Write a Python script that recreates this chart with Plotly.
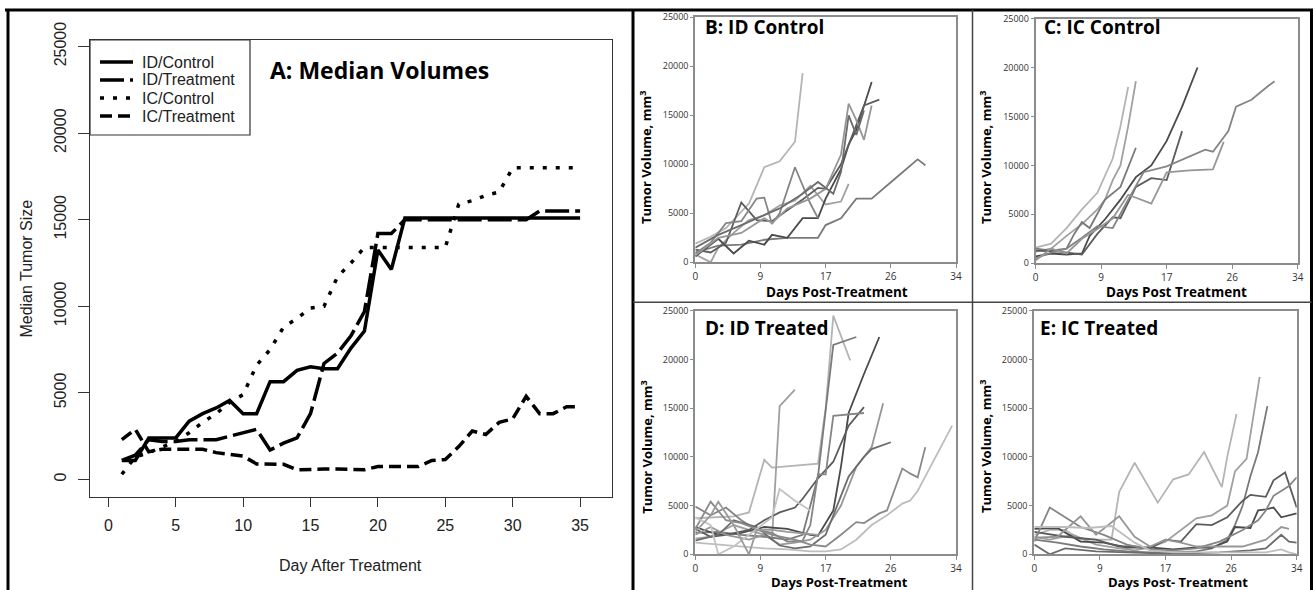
import plotly.graph_objects as go

W, H = 1315, 590

# ---------------- Panel A data (medians) ----------------
days_A = list(range(1, 36))
id_control = [1100, 1100, 2400, 2400, 2400, 3370, 3800, 4130, 4560, 3800, 3800, 5650, 5650, 6300, 6510,
              6400, 6400, 7590, 8570, 13250, 12130, 15100, 15100, 15100, 15100, 15100, 15100, 15100, 15100,
              15100, 15100, 15100, 15100, 15100, 15100]
id_treatment = [1100, 1400, 2300, 2200, 2200, 2300, 2300, 2300, 2500, 2700, 2900, 1700, 2100, 2400, 3800,
                6700, 7300, 8300, 9700, 14200, 14200, 15000, 15000, 15000, 15000, 15000, 15000, 15000, 15000,
                15000, 15000, 15500, 15500, 15500, 15500]
ic_control = [300, 1300, 1550, 1850, 2200, 2700, 3300, 3800, 4450, 4900, 6600, 7500, 8800, 9300, 9900,
              10000, 11700, 12500, 13400, 13400, 13400, 13400, 13400, 13400, 13400, 15900, 16100, 16400, 16600,
              18000, 18000, 18000, 18000, 18000, 18000]
ic_treatment = [2300, 2900, 1600, 1750, 1750, 1750, 1750, 1550, 1450, 1350, 900, 880, 880, 560, 600,
                600, 600, 560, 560, 750, 750, 750, 750, 1100, 1150, 1900, 2800, 2600, 3300, 3500,
                4800, 3800, 3800, 4200, 4200]
series_names_A = ["ID/Control", "ID/Treatment", "IC/Control", "IC/Treatment"]
ticks_A_x = [0, 5, 10, 15, 20, 25, 30, 35]
ticks_A_y = [0, 5000, 10000, 15000, 20000, 25000]
ticktext_A_y = ["0", "5000", "10000", "15000", "20000", "25000"]

# ---------------- Panels B-E data (individual animals) ----------------
B_days = [
    [0, 2, 4, 7, 9, 11, 13, 14],
    [0, 2, 3, 5, 7, 9, 11, 13, 15, 17, 19, 20],
    [0, 3, 6, 9, 12, 16, 17, 19, 21, 23, 26, 29, 30],
    [0, 3, 5, 7, 9, 10, 12, 14, 16, 17, 19, 20, 21, 23],
    [0, 2, 4, 6, 8, 10, 12, 14, 16, 17, 19, 21, 22, 24],
    [0, 2, 4, 6, 8, 9, 10, 11, 13, 15, 16],
    [0, 3, 6, 9, 10, 12, 15, 17, 19, 20, 21, 22, 23],
    [0, 3, 6, 8, 11, 14, 16, 18, 19, 20, 21, 22],
]
B_vals = [
    [1900, 2600, 3500, 6000, 9700, 10300, 12300, 19300],
    [800, 0, 1500, 3000, 4300, 4800, 5800, 6300, 7800, 5900, 6200, 8000],
    [1000, 1700, 1800, 2300, 2500, 2500, 3800, 4500, 6500, 6500, 8500, 10500, 9900],
    [600, 2400, 900, 2200, 1800, 2800, 2500, 4500, 4500, 6500, 9500, 12000, 13500, 18400],
    [1300, 1000, 2000, 6100, 4300, 4200, 5300, 6400, 7600, 7500, 10000, 14000, 16000, 16600],
    [900, 2000, 4000, 4200, 6500, 6600, 3900, 5000, 9700, 6000, 4500],
    [700, 2500, 3000, 4500, 4000, 5500, 6500, 7500, 11000, 16200, 14500, 12500, 16000],
    [1500, 2800, 3800, 4500, 5500, 7000, 8200, 7000, 9200, 15000, 13000, 15500],
]
C_days = [
    [0, 2, 4, 6, 8, 10, 11, 12],
    [0, 2, 4, 6, 8, 9, 10, 11, 12, 13],
    [0, 2, 4, 5, 6, 7, 9, 11, 13],
    [0, 2, 4, 6, 7, 9, 11, 13, 15, 17, 19, 21],
    [0, 3, 6, 8, 10, 11, 13, 15, 17, 18, 19],
    [0, 2, 4, 6, 8, 10, 12, 14, 17, 20, 22, 23, 25, 26, 28, 30, 31],
    [0, 2, 4, 6, 8, 10, 12, 15, 17, 20, 23, 24, 24.4],
]
C_vals = [
    [1600, 2000, 3600, 5500, 7200, 10700, 14000, 18000],
    [1200, 1500, 2800, 4000, 5500, 6500, 8500, 10000, 14000, 18600],
    [1500, 1300, 1500, 3000, 4200, 3600, 6500, 7800, 11800],
    [700, 1000, 900, 1000, 2800, 4500, 6500, 8800, 10000, 12500, 16000, 20000],
    [1300, 1200, 900, 3000, 4700, 4600, 7800, 8700, 8500, 11000, 13500],
    [500, 1100, 1500, 2600, 3800, 3600, 6500, 9300, 9900, 10900, 11600, 11400, 13500, 16000, 16700, 18000, 18600],
    [300, 1500, 1000, 2500, 3500, 4600, 7000, 6100, 9300, 9500, 9600, 11500, 12400],
]
D_days = [
    [0, 3, 5, 7, 9, 10, 13, 16, 17, 18, 20.2],
    [0, 2, 5, 7, 9, 10, 11, 13],
    [0, 3, 6, 9, 12, 14, 16, 17, 18, 21],
    [0, 3, 6, 9, 12, 15, 16, 18, 19, 20, 22, 24],
    [0, 2, 4, 7, 9, 11, 13, 14, 16, 18, 20, 22],
    [0, 2, 4, 6, 8, 10, 12, 14, 15, 16, 17, 18, 22],
    [0, 2, 4, 7, 9, 11, 13, 15, 17, 19, 21, 22, 23, 24.5],
    [0, 3, 5, 8, 11, 13, 15, 17, 19, 20, 22, 23, 25.5],
    [0, 3, 6, 9, 12, 15, 17, 19, 21, 23, 25, 27, 28, 29, 30, 31, 33.5],
    [0, 2, 4, 6, 8, 10, 13, 15, 17, 19, 21, 22, 24, 25, 27, 28, 29, 30],
    [0, 2, 3, 5, 7, 10, 11, 13, 15],
    [0, 2, 3, 5, 7, 8, 10, 12, 16],
]
D_vals = [
    [3700, 3800, 3900, 4300, 9700, 8900, 9100, 9300, 15000, 24500, 19900],
    [1600, 1800, 3000, 2500, 2000, 1500, 15200, 16900],
    [2200, 2300, 2000, 1800, 1500, 2000, 8000, 14500, 21500, 22300],
    [2800, 2000, 2200, 2800, 2600, 2000, 1900, 4500, 9000, 14500, 18500, 22300],
    [2600, 1800, 2000, 2500, 3500, 4300, 4800, 5700, 7800, 9500, 13200, 15100],
    [4900, 4000, 4800, 3500, 2500, 2200, 1300, 1400, 3000, 8200, 8200, 14200, 14500],
    [2000, 2800, 2000, 1500, 2000, 1000, 1200, 1500, 2500, 5000, 9000, 10000, 11000, 15500],
    [1400, 2000, 3500, 2800, 900, 600, 800, 2000, 6000, 8000, 10000, 10800, 11500],
    [1200, 1000, 800, 600, 500, 300, 300, 500, 1500, 3000, 4000, 5200, 5500, 6500, 8000, 9500, 13200],
    [2600, 5400, 3500, 3200, 2600, 2000, 1500, 1000, 800, 2000, 3300, 3200, 4200, 4500, 8800, 8300, 7900, 11000],
    [3800, 3000, 0, 800, 2000, 3800, 6700, 5500, 4500],
    [2300, 4000, 5400, 3000, 0, 2500, 2500, 2300, 2000],
]
E_days = [
    [0, 2, 4, 6, 8, 10, 11, 13, 16, 18, 20, 22, 24.3, 25, 26.2],
    [0, 2, 5, 8, 11, 13, 15, 17, 19, 21, 23, 25, 26, 27.5, 29.2],
    [0, 3, 6, 9, 12, 15, 18, 21, 23, 25, 26, 27, 28, 29, 30.2],
    [0, 3, 6, 9, 12, 15, 18, 21, 23, 25, 26, 28, 29, 30, 31, 32, 34],
    [0, 4, 8, 11, 13, 15, 17, 19, 21, 23, 25, 27, 28, 30, 31, 32.5, 34],
    [0, 2, 4, 6, 9, 12, 15, 18, 21, 24, 27, 29, 30, 31, 33, 34],
    [0, 3, 6, 8, 11, 13, 15, 17, 19, 21, 24, 27, 30, 32, 33],
    [0, 2, 4, 8, 12, 16, 20, 24, 28, 30, 32, 33, 34],
    [0, 4, 7, 10, 13, 15, 18, 22, 26, 30, 32, 33, 34],
]
E_vals = [
    [2000, 2500, 2500, 1500, 1500, 1500, 6400, 9400, 5300, 7700, 8200, 10500, 6900, 10000, 14400],
    [1800, 1500, 2000, 1000, 600, 400, 700, 1300, 2500, 3700, 4000, 5000, 8500, 9800, 18200],
    [1500, 1200, 800, 500, 300, 200, 200, 300, 600, 1500, 3000, 5000, 8000, 10500, 15200],
    [2600, 2700, 1300, 1200, 700, 700, 500, 700, 700, 1300, 2800, 2700, 4500, 4600, 4800, 3800, 4200],
    [2300, 1800, 1500, 800, 800, 600, 1500, 1300, 3100, 3000, 3800, 5500, 6100, 5900, 7600, 8400, 4800],
    [1300, 4800, 3800, 2800, 2000, 1000, 500, 400, 600, 1300, 2500, 3500, 4500, 6000, 7000, 7900],
    [1700, 1800, 3900, 2000, 3900, 1800, 800, 1500, 1200, 800, 800, 800, 1500, 2800, 2600],
    [1000, 0, 600, 300, 200, 100, 100, 200, 400, 600, 2000, 1300, 1200],
    [2800, 2800, 2700, 2900, 1200, 400, 200, 200, 200, 200, 500, 200, 0],
]
tickvals_R = [0, 8.5, 17, 25.5, 34]
ticktext_R = ["0", "9", "17", "26", "34"]
ticks_R_y = [0, 5000, 10000, 15000, 20000, 25000]
ticktext_R_y = ["0", "5000", "10000", "15000", "20000", "25000"]

# ---------------- styles ----------------
grays = ["#b4b4b4", "#a0a0a0", "#7a7a7a", "#4a4a4a", "#5c5c5c", "#858585", "#969696", "#6c6c6c",
         "#bdbdbd", "#8a8a8a", "#c2c2c2", "#9a9a9a"]
dashes_A = ["solid", "24px,6px", "4px,9px", "12px,6px"]

def px(x):
    return x / W

def py(y):
    return 1 - y / H

fig = go.Figure()

# Panel A traces
for name, vals, dsh in zip(series_names_A, [id_control, id_treatment, ic_control, ic_treatment], dashes_A):
    fig.add_trace(go.Scatter(x=days_A, y=vals, mode="lines", name=name,
                             line=dict(color="black", width=3.5, dash=dsh),
                             xaxis="x", yaxis="y", showlegend=False))

# Panels B-E
panels = [("x2", "y2", B_days, B_vals), ("x3", "y3", C_days, C_vals),
          ("x4", "y4", D_days, D_vals), ("x5", "y5", E_days, E_vals)]
for xa, ya, dl, vl in panels:
    for i, (d, v) in enumerate(zip(dl, vl)):
        fig.add_trace(go.Scatter(x=d, y=v, mode="lines", line=dict(color=grays[i % len(grays)], width=1.8),
                                 xaxis=xa, yaxis=ya, showlegend=False, hoverinfo="skip"))

fontA = "Liberation Sans, Arial, sans-serif"
fontR = "Open Sans, sans-serif"

layout = dict(
    width=W, height=H, margin=dict(l=0, r=0, t=0, b=0, pad=0, autoexpand=False),
    paper_bgcolor="white", plot_bgcolor="white",
    showlegend=False,
)

# Panel A axes
layout["xaxis"] = dict(domain=[px(90), px(612.3)], range=[-1.36, 37.39], anchor="y",
                       tickvals=ticks_A_x, ticks="outside", ticklen=9, tickcolor="#333",
                       showline=True, linecolor="#333", linewidth=1.2, mirror=True, showgrid=False,
                       zeroline=False, tickfont=dict(family=fontA, size=16, color="#222"),
                       ticklabelstandoff=5, automargin=False)
layout["yaxis"] = dict(domain=[py(496.7), py(40)], range=[-993, 25375], anchor="x",
                       tickvals=ticks_A_y, ticktext=ticktext_A_y, ticks="outside", ticklen=11, tickcolor="#333",
                       showline=True, linecolor="#333", linewidth=1.2, mirror=True, showgrid=False,
                       zeroline=False, tickangle=-90, tickfont=dict(family=fontA, size=16, color="#222"),
                       ticklabelstandoff=6, automargin=False)

rpanels = {
    2: ([695.3, 956.0], [17.3, 262.3]),
    3: ([1035.7, 1297.7], [18.5, 263.3]),
    4: ([695.3, 956.0], [310.7, 554.3]),
    5: ([1034.3, 1296.7], [310.7, 554.3]),
}
for k, (xd, yd) in rpanels.items():
    layout[f"xaxis{k}"] = dict(domain=[px(xd[0]), px(xd[1])], range=[0, 34], anchor=f"y{k}",
                               tickvals=tickvals_R, ticktext=ticktext_R, ticks="outside", ticklen=4,
                               tickcolor="#8c8c8c", showline=True, linecolor="#8c8c8c", linewidth=2,
                               mirror=True, showgrid=False, zeroline=False,
                               tickfont=dict(family=fontR, size=10, color="#333"), ticklabelstandoff=0,
                               automargin=False)
    layout[f"yaxis{k}"] = dict(domain=[py(yd[1]), py(yd[0])], range=[0, 25000], anchor=f"x{k}",
                               tickvals=ticks_R_y, ticktext=ticktext_R_y, ticks="outside", ticklen=3,
                               tickcolor="#8c8c8c", showline=True, linecolor="#8c8c8c", linewidth=2,
                               mirror=True, showgrid=False, zeroline=False,
                               tickfont=dict(family=fontR, size=9, color="#333"), ticklabelstandoff=0,
                               automargin=False)

annotations = []
def ann(text, x, y, size, family, bold=False, angle=0, xanchor="center", color="black"):
    annotations.append(dict(text=f"<b>{text}</b>" if bold else text, x=px(x), y=py(y), xref="paper",
                            yref="paper", showarrow=False, textangle=angle, xanchor=xanchor,
                            yanchor="middle", font=dict(family=family, size=size, color=color)))

ann("A: Median Volumes", 380, 70, 23, fontR, bold=True)
ann("Median Tumor Size", 25.6, 269, 16, fontA, angle=-90, color="#222")
ann("Day After Treatment", 350.5, 565, 16, fontA, color="#222")

# legend of panel A (drawn by hand, R style)
leg_rows = [62, 80, 98, 116]
for name, yy in zip(series_names_A, leg_rows):
    ann(name, 139.5, yy, 16, fontA, xanchor="left", color="#222")

ann("B: ID Control", 702.7, 27, 19, fontR, bold=True, xanchor="left")
ann("C: IC Control", 1042.3, 27, 19, fontR, bold=True, xanchor="left")
ann("D: ID Treated", 702.7, 328, 19, fontR, bold=True, xanchor="left")
ann("E: IC Treated", 1037.7, 328, 19, fontR, bold=True, xanchor="left")

ytitle = "Tumor Volume, mm<sup>3</sup>"
ann(ytitle, 645, 158, 13, fontR, bold=True, angle=-90)
ann(ytitle, 985, 158, 13, fontR, bold=True, angle=-90)
ann(ytitle, 645.7, 447, 13, fontR, bold=True, angle=-90)
ann(ytitle, 985, 447, 13, fontR, bold=True, angle=-90)

ann("Days Post-Treatment", 836.7, 292, 13.5, fontR, bold=True)
ann("Days Post Treatment", 1176.7, 292, 13.5, fontR, bold=True)
ann("Days Post-Treatment", 839, 582, 13, fontR, bold=True)
ann("Days Post- Treatment", 1177.5, 582, 13, fontR, bold=True)
layout["annotations"] = annotations

# frame lines
def line(x0, y0, x1, y1, color, width, dash="solid"):
    return dict(type="line", xref="paper", yref="paper", x0=px(x0), y0=py(y0), x1=px(x1), y1=py(y1),
                line=dict(color=color, width=width, dash=dash))

shapes = [
    line(5, 10, 1313, 10, "black", 3),
    line(8, 10, 8, 595, "black", 3),
    line(1311.5, 10, 1311.5, 595, "black", 3),
    line(633, 10, 633, 595, "black", 3),
    line(633, 302.3, 1311.5, 302.3, "#444", 1.5),
    line(972.5, 10, 972.5, 595, "#444", 1.5),
    dict(type="rect", xref="paper", yref="paper", x0=px(90), y0=py(135), x1=px(250), y1=py(40),
         line=dict(color="#333", width=1.2), fillcolor="white", layer="below"),
]
for dsh, yy in zip(dashes_A, leg_rows):
    shapes.append(line(100, yy, 133, yy, "black", 3.5, dsh))
layout["shapes"] = shapes

fig.update_layout(**layout)
fig.write_html("out.html", config={"displayModeBar": False},
               post_script="document.body.style.margin='0';document.body.style.padding='0';")
